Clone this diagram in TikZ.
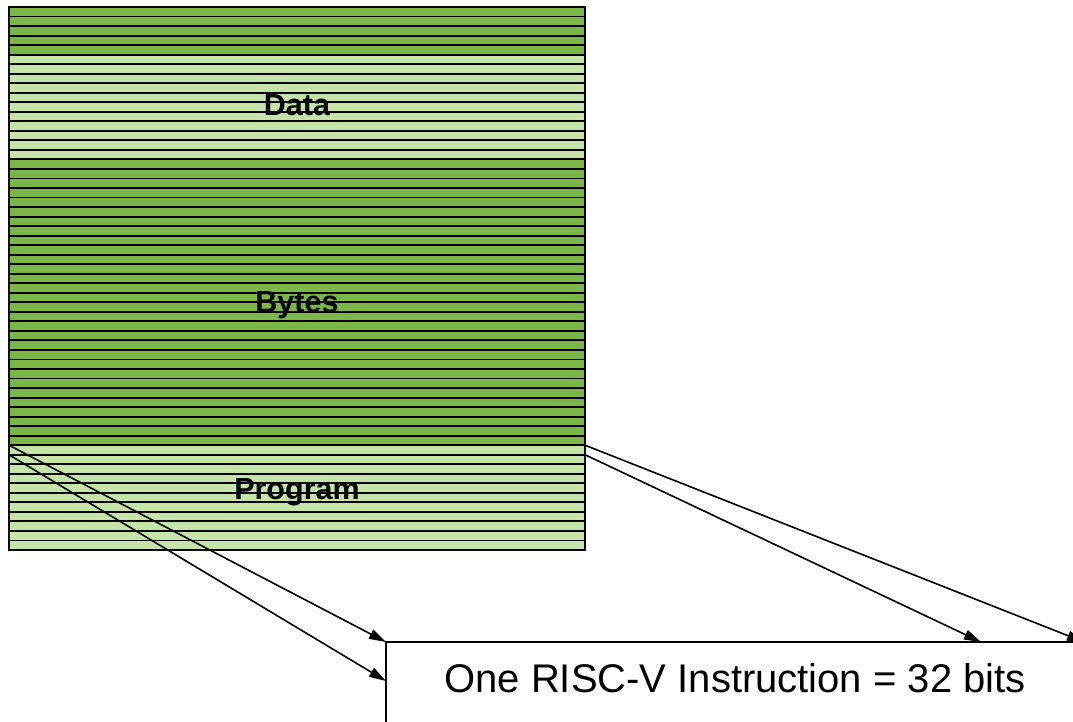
\documentclass[tikz,border=0pt]{standalone}
\usepackage{fontspec}
\setmainfont{Liberation Sans}
\usetikzlibrary{arrows.meta}
\definecolor{darkg}{HTML}{7AB648}
\definecolor{lightg}{HTML}{C5E5A8}
\begin{document}
\begin{tikzpicture}[x=1pt,y=-1pt,
 stripe/.style={draw=black, line width=1.9pt, minimum width=576pt, minimum height=9.526pt, inner sep=0pt, outer sep=0pt, anchor=north west},
 lbl/.style={font=\fontsize{30.5}{36}\selectfont\bfseries, anchor=base, inner sep=0pt},
 instrbox/.style={draw=black, line width=1.9pt, minimum width=698pt, minimum height=90pt, inner sep=0pt, outer sep=0pt, anchor=north west},
 instr/.style={font=\fontsize{40}{46}\selectfont, inner sep=0pt},
 conn/.style={line width=1.6pt, -{Triangle[length=17pt,width=10pt]}}]
\useasboundingbox (0,0) rectangle (1073,721);
\clip (0,0) rectangle (1073,721);
\foreach \i in {0,...,56}{
  \pgfmathtruncatemacro\isdark{(\i<5)||((\i>15)&&(\i<46))}
  \ifnum\isdark=1 \def\fc{darkg}\else\def\fc{lightg}\fi
  \node[stripe, fill=\fc] (s\i) at (9, {7+\i*9.526}) {};
}
\node[lbl] (data) at (297,115.5) {Data};
\node[lbl] (bytes) at (297,312) {Bytes};
\node[lbl] (prog) at (297,499) {Program};
\node[instrbox] (box) at (386,642) {};
\node[instr] (txt) at (735,678) {One RISC-V Instruction = 32 bits};
\coordinate (bw) at (386,681);
\coordinate (bt) at (981,642);
\draw[conn] (s46.north west) -- (box.north west);
\draw[conn] (s46.south west) -- (bw);
\draw[conn] (s46.north east) -- (box.north east);
\draw[conn] (s46.south east) -- (bt);
\end{tikzpicture}
\end{document}
